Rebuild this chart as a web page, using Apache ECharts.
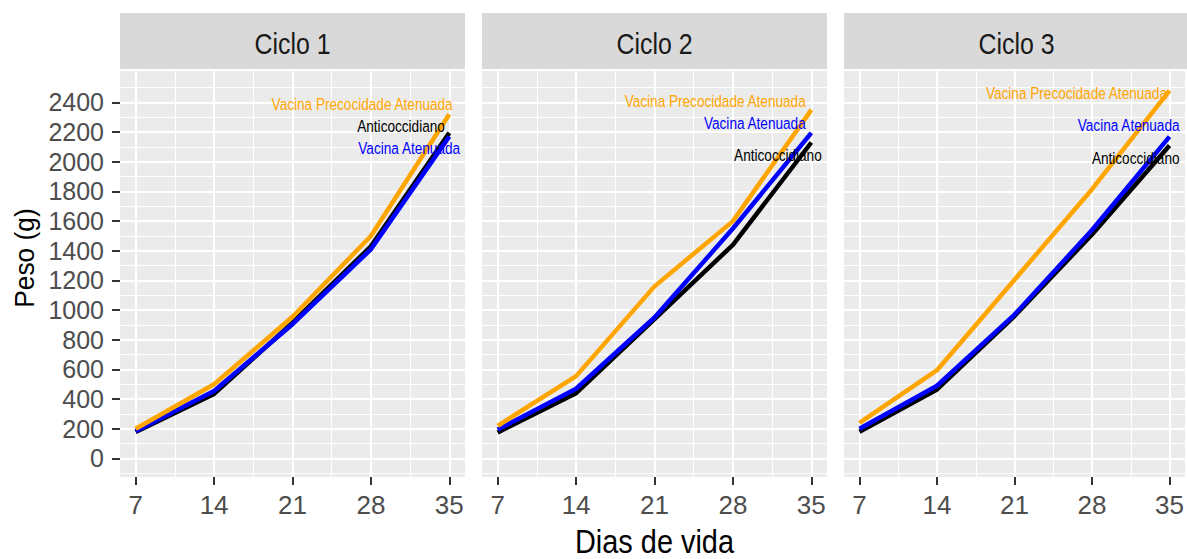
<!DOCTYPE html>
<html>
<head>
<meta charset="utf-8">
<script src="https://cdn.jsdelivr.net/npm/echarts@6/dist/echarts.min.js"></script>
<style>
  html, body { margin: 0; padding: 0; background: #ffffff; }
  #chart { width: 1187px; height: 559px; }
</style>
</head>
<body>
<div id="chart"></div>
<script>
// Dias de vida (eixo x) e ciclos (painéis)
const days = [7, 14, 21, 28, 35];
const cycles = ['Ciclo 1', 'Ciclo 2', 'Ciclo 3'];
const treatments = ['Anticoccidiano', 'Vacina Atenuada', 'Vacina Precocidade Atenuada'];

// Peso médio (g) por ciclo, uma linha por ciclo
const anticoccidiano = [
  [178, 435, 915, 1430, 2195],
  [175, 440, 940, 1440, 2130],
  [180, 465, 960, 1510, 2110]
];
const vacinaAtenuada = [
  [183, 455, 905, 1410, 2170],
  [195, 470, 950, 1550, 2195],
  [200, 490, 970, 1540, 2170]
];
const vacinaPrecocidade = [
  [200, 500, 955, 1500, 2320],
  [220, 555, 1160, 1600, 2350],
  [240, 595, 1205, 1815, 2480]
];

// Marcas dos eixos
const yTicks = [0, 200, 400, 600, 800, 1000, 1200, 1400, 1600, 1800, 2000, 2200, 2400];
const yMinorTicks = [-100, 100, 300, 500, 700, 900, 1100, 1300, 1500, 1700, 1900, 2100, 2300, 2500];
const xMinorTicks = [10.5, 17.5, 24.5, 31.5];

// Rótulos de texto junto ao fim das linhas (coordenadas nos eixos)
const labelX = [
  [34.6, 35.96, 35.3],
  [35.93, 34.5, 34.5],
  [35.9, 35.9, 34.77]
];
const labelY = [
  [2240, 2090, 2393],
  [2044, 2262, 2408],
  [2029, 2245, 2467]
];

const colors = ['#000000', '#0000FF', '#FFA500'];
const valuesByTreatment = [anticoccidiano, vacinaAtenuada, vacinaPrecocidade];

const SANS = "'Liberation Sans', Arial, sans-serif";
const NARROW_SCALE = 0.83;   // títulos e rótulos em fonte estreita

const panelLeft = [120, 482, 844];
const panelWidth = 345;
const panelTop = 71;
const panelHeight = 406;
const xMin = 5.6, xMax = 36.4;
const yMin = -125, yMax = 2612;

const grids = [], xAxes = [], yAxes = [], series = [], graphics = [];

cycles.forEach((name, i) => {
  grids.push({
    left: panelLeft[i], top: panelTop, width: panelWidth, height: panelHeight,
    show: true, backgroundColor: '#EBEBEB', borderWidth: 0
  });

  // x principal
  xAxes.push({
    type: 'value', gridIndex: i, min: xMin, max: xMax, position: 'bottom',
    axisLine: { show: false, onZero: false },
    axisTick: { show: true, customValues: days, length: 8, lineStyle: { color: '#333333', width: 2 } },
    axisLabel: { show: true, customValues: days, margin: 15, fontSize: 26, color: '#4D4D4D', fontFamily: SANS,
                 formatter: v => String(v) },
    splitLine: { show: true, lineStyle: { color: '#FFFFFF', width: 2 } }
  });
  // x secundário (grade menor)
  xAxes.push({
    type: 'value', gridIndex: i, min: xMin, max: xMax, position: 'top',
    axisLine: { show: false, onZero: false },
    axisTick: { show: false, customValues: xMinorTicks },
    axisLabel: { show: false },
    splitLine: { show: true, lineStyle: { color: '#FFFFFF', width: 1 } }
  });
  // y principal
  yAxes.push({
    type: 'value', gridIndex: i, min: yMin, max: yMax, position: 'left',
    axisLine: { show: false, onZero: false },
    axisTick: { show: i === 0, customValues: yTicks, length: 8, lineStyle: { color: '#333333', width: 2 } },
    axisLabel: { show: i === 0, customValues: yTicks, margin: 16, fontSize: 25, color: '#4D4D4D', fontFamily: SANS,
                 formatter: v => String(v) },
    splitLine: { show: true, lineStyle: { color: '#FFFFFF', width: 2 } }
  });
  // y secundário (grade menor)
  yAxes.push({
    type: 'value', gridIndex: i, min: yMin, max: yMax, position: 'right',
    axisLine: { show: false, onZero: false },
    axisTick: { show: false, customValues: yMinorTicks },
    axisLabel: { show: false },
    splitLine: { show: true, lineStyle: { color: '#FFFFFF', width: 1 } }
  });

  treatments.forEach((t, k) => {
    series.push({
      name: t + ' - ' + name,
      type: 'line',
      xAxisIndex: 2 * i, yAxisIndex: 2 * i,
      data: days.map((d, j) => [d, valuesByTreatment[k][i][j]]),
      showSymbol: false,
      lineStyle: { color: colors[k], width: 4.5 },
      itemStyle: { color: colors[k] },
      z: 3 + k,
      animation: false
    });
  });

  // rótulos das linhas, posicionados pelas escalas do painel
  series.push({
    type: 'custom',
    name: 'rótulos - ' + name,
    xAxisIndex: 2 * i, yAxisIndex: 2 * i,
    silent: true,
    z: 10,
    animation: false,
    data: treatments.map((t, k) => [labelX[i][k], labelY[i][k], k]),
    renderItem: (params, api) => {
      const k = api.value(2);
      const p = api.coord([api.value(0), api.value(1)]);
      return {
        type: 'text',
        x: p[0], y: p[1],
        scaleX: 0.81,
        style: {
          text: treatments[k],
          fill: colors[k],
          font: '16.8px ' + SANS,
          align: 'right',
          verticalAlign: 'middle'
        }
      };
    }
  });

  // faixa do painel
  graphics.push({
    type: 'rect', left: panelLeft[i], top: 13,
    shape: { width: panelWidth, height: 56 },
    style: { fill: '#D9D9D9' }, silent: true
  });
  graphics.push({
    type: 'text', x: panelLeft[i] + panelWidth / 2, y: 44, scaleX: NARROW_SCALE,
    style: { text: name, fill: '#1A1A1A', font: '30px ' + SANS, textAlign: 'center', textVerticalAlign: 'middle' },
    silent: true
  });
});

graphics.push({
  type: 'text', x: 654.5, y: 541, scaleX: 0.85,
  style: { text: 'Dias de vida', fill: '#000000', font: '34px ' + SANS, textAlign: 'center', textVerticalAlign: 'middle' },
  silent: true
});
graphics.push({
  type: 'text', x: 24, y: 258, rotation: Math.PI / 2, scaleX: 0.94,
  style: { text: 'Peso (g)', fill: '#000000', font: '28px ' + SANS, textAlign: 'center', textVerticalAlign: 'middle' },
  silent: true
});

const chart = echarts.init(document.getElementById('chart'), null, { renderer: 'svg' });
chart.setOption({
  animation: false,
  backgroundColor: '#FFFFFF',
  grid: grids,
  xAxis: xAxes,
  yAxis: yAxes,
  series: series,
  graphic: graphics
});
</script>
</body>
</html>
